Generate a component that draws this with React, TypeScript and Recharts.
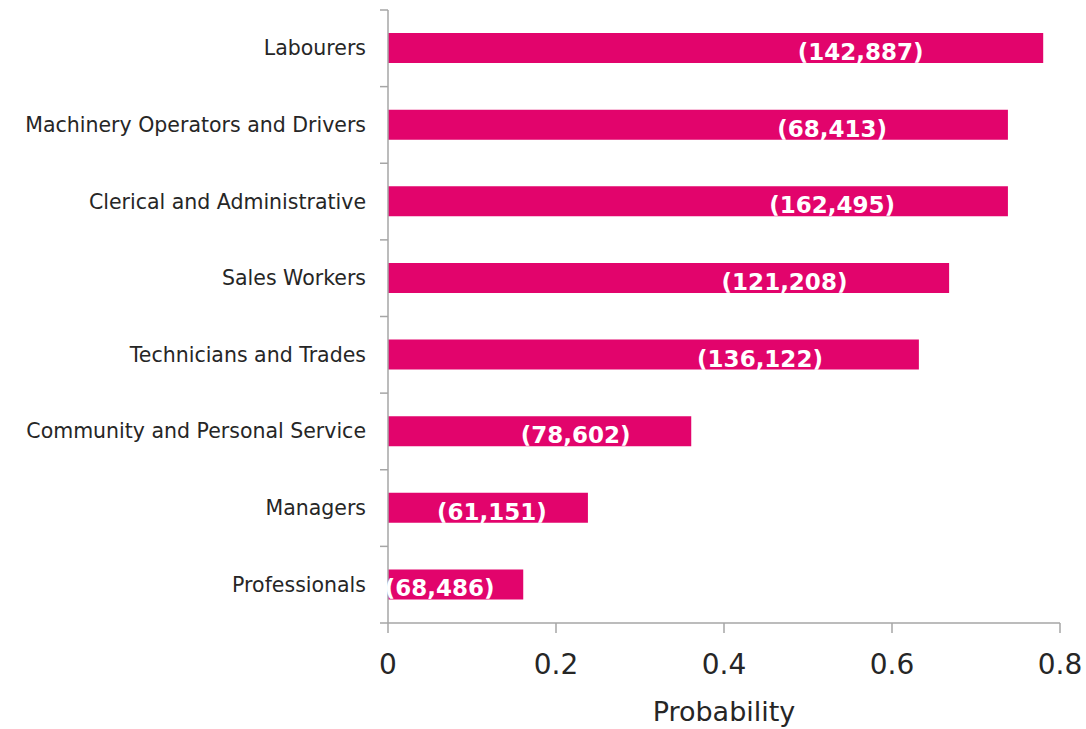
import { BarChart, Bar, XAxis, YAxis, LabelList } from "recharts";

const categories = [
  "Labourers",
  "Machinery Operators and Drivers",
  "Clerical and Administrative",
  "Sales Workers",
  "Technicians and Trades",
  "Community and Personal Service",
  "Managers",
  "Professionals",
];
const probability = [0.78, 0.738, 0.738, 0.668, 0.632, 0.361, 0.238, 0.161];
const workers = ["(142,887)", "(68,413)", "(162,495)", "(121,208)", "(136,122)", "(78,602)", "(61,151)", "(68,486)"];
const xTicks = [0, 0.2, 0.4, 0.6, 0.8];

const data = categories.map((name, i) => ({ name, value: probability[i], count: workers[i] }));

const PINK = "#e2046c";
const AXIS = "#a6a6a6";
const FONT = "Tahoma, 'DejaVu Sans', sans-serif";

const W = 1086;
const H = 729;
const TOP = 10;
const BOTTOM = 106;
const BAND = (H - TOP - BOTTOM) / categories.length;

function CatTick(props: any) {
  const { x, y, payload, index } = props;
  return (
    <g>
      <line x1={x} x2={x + 8} y1={y - BAND / 2} y2={y - BAND / 2} stroke={AXIS} strokeWidth={1.5} />
      {index === categories.length - 1 && (
        <line x1={x} x2={x + 8} y1={y + BAND / 2} y2={y + BAND / 2} stroke={AXIS} strokeWidth={1.5} />
      )}
      <text x={x - 14} y={y} dy={7} textAnchor="end" fill="#262626" fontSize={20.5} fontFamily={FONT}>
        {payload.value}
      </text>
    </g>
  );
}

function CountLabel(props: any) {
  const { x, y, width, height, value } = props;
  const cx = x + width * 0.81 - 58;
  return (
    <text x={cx} y={y + height / 2} dy={12} textAnchor="middle" fill="#fff" fontSize={23} fontWeight="bold" fontFamily={FONT}>
      {value}
    </text>
  );
}

export default function App() {
  return (
    <div style={{ position: "absolute", left: 0, top: 0, width: W, height: H, background: "#fff" }}>
      <BarChart
        width={W}
        height={H}
        data={data}
        layout="vertical"
        margin={{ top: TOP, right: 26, left: 0, bottom: 0 }}
        barSize={30}
      >
        <XAxis
          type="number"
          domain={[0, 0.8]}
          ticks={xTicks}
          tickFormatter={(v) => String(v)}
          height={BOTTOM}
          stroke={AXIS}
          strokeWidth={1.5}
          tickSize={10}
          tick={{ fill: "#262626", fontSize: 28, fontFamily: FONT }}
          tickMargin={21}
          label={{ value: "Probability", position: "insideBottom", offset: 8, fill: "#262626", fontSize: 27, fontFamily: FONT }}
        />
        <YAxis
          type="category"
          dataKey="name"
          width={388}
          stroke={AXIS}
          strokeWidth={1.5}
          tickLine={false}
          tick={<CatTick />}
          interval={0}
        />
        <Bar dataKey="value" fill={PINK} isAnimationActive={false}>
          <LabelList dataKey="count" content={<CountLabel />} />
        </Bar>
      </BarChart>
    </div>
  );
}
